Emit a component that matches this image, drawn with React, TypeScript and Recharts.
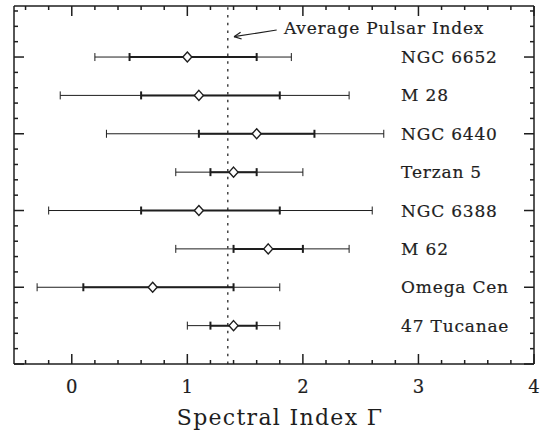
import React from "react";
import { ScatterChart, Scatter, XAxis, YAxis, ErrorBar, ReferenceLine } from "recharts";

// globular clusters, top to bottom
const clusters = ["NGC 6652", "M 28", "NGC 6440", "Terzan 5", "NGC 6388", "M 62", "Omega Cen", "47 Tucanae"];
const rowPos = [8, 7, 6, 5, 4, 3, 2, 1];
const gamma = [1.0, 1.1, 1.6, 1.4, 1.1, 1.7, 0.7, 1.4];
const innerLo = [0.5, 0.6, 1.1, 1.2, 0.6, 1.4, 0.1, 1.2];
const innerHi = [1.6, 1.8, 2.1, 1.6, 1.8, 2.0, 1.4, 1.6];
const outerLo = [0.2, -0.1, 0.3, 0.9, -0.2, 0.9, -0.3, 1.0];
const outerHi = [1.9, 2.4, 2.7, 2.0, 2.6, 2.4, 1.8, 1.8];

const avgIndex = 1.35;
const labelX = 2.85;

const xTicks = [-0.4, -0.2, 0, 0.2, 0.4, 0.6, 0.8, 1, 1.2, 1.4, 1.6, 1.8, 2, 2.2, 2.4, 2.6, 2.8, 3, 3.2, 3.4, 3.6, 3.8, 4];
const yTicks = [0, 0.4, 0.8, 1.2, 1.6, 2, 2.4, 2.8, 3.2, 3.6, 4, 4.4, 4.8, 5.2, 5.6, 6, 6.4, 6.8, 7.2, 7.6, 8, 8.4, 8.8, 9.2];

const FONT = "'DejaVu Serif', serif";
const INK = "#1e1e1e";

const rows = clusters.map((name, i) => ({
  name,
  x: gamma[i],
  y: rowPos[i],
  inner: [gamma[i] - innerLo[i], innerHi[i] - gamma[i]],
  outer: [gamma[i] - outerLo[i], outerHi[i] - gamma[i]],
}));
const nameRows = clusters.map((name, i) => ({ name, x: labelX, y: rowPos[i] }));
const note = [{ name: "Average Pulsar Index", x: 1.836, y: 8.75 }];

const isMajor = (v: number, step: number) => Math.abs(v / step - Math.round(v / step)) < 1e-6;

function XTick({ x, y, payload, top }: any) {
  const v = payload.value;
  const major = isMajor(v, 1);
  const len = major ? 10 : 4;
  return (
    <g>
      <line x1={x} x2={x} y1={y} y2={top ? y + len : y - len} stroke={INK} strokeWidth={1.5} />
      {!top && major && (
        <text x={x} y={y + 29} textAnchor="middle" fontFamily={FONT} fontSize={18} fill={INK} stroke={INK} strokeWidth={0.2}>
          {Math.round(v)}
        </text>
      )}
    </g>
  );
}

function YTick({ x, y, payload, right }: any) {
  const len = isMajor(payload.value, 2) ? 10 : 4;
  return <line x1={x} x2={right ? x - len : x + len} y1={y} y2={y} stroke={INK} strokeWidth={1.5} />;
}

function Diamond({ cx, cy }: any) {
  return (
    <polygon
      points={`${cx},${cy - 5} ${cx + 4.5},${cy} ${cx},${cy + 5} ${cx - 4.5},${cy}`}
      fill="#fff"
      stroke={INK}
      strokeWidth={1.4}
    />
  );
}

function NameText({ cx, cy, payload }: any) {
  return (
    <text x={cx} y={cy} dy={6} fontFamily={FONT} fontSize={17} letterSpacing={0.8} fill={INK} stroke={INK} strokeWidth={0.2}>
      {payload.name}
    </text>
  );
}

export default function App() {
  return (
    <div style={{ position: "absolute", left: 0, top: 0, width: 548, height: 433, background: "#fff" }}>
      <ScatterChart width={548} height={433} margin={{ top: 5, right: 13, bottom: 0, left: 13 }}>
        <XAxis
          type="number"
          dataKey="x"
          domain={[-0.5, 4]}
          allowDataOverflow
          ticks={xTicks}
          interval={0}
          height={69}
          tickSize={0}
          tickMargin={0}
          tickLine={false}
          axisLine={{ stroke: INK, strokeWidth: 1.5 }}
          tick={(p: any) => <XTick {...p} />}
          label={{ value: "Spectral Index Γ", position: "insideBottom", offset: 8, dx: 6, fontFamily: FONT, fontSize: 22, letterSpacing: 1.3, fill: INK }}
        />
        <XAxis
          xAxisId="top"
          orientation="top"
          type="number"
          dataKey="x"
          domain={[-0.5, 4]}
          allowDataOverflow
          ticks={xTicks}
          interval={0}
          height={1}
          tickSize={0}
          tickMargin={0}
          tickLine={false}
          axisLine={{ stroke: INK, strokeWidth: 1.5 }}
          tick={(p: any) => <XTick {...p} top />}
        />
        <YAxis
          type="number"
          dataKey="y"
          domain={[0, 9.33]}
          allowDataOverflow
          ticks={yTicks}
          interval={0}
          width={1}
          tickSize={0}
          tickMargin={0}
          tickLine={false}
          axisLine={{ stroke: INK, strokeWidth: 1.5 }}
          tick={(p: any) => <YTick {...p} />}
        />
        <YAxis
          yAxisId="right"
          orientation="right"
          type="number"
          dataKey="y"
          domain={[0, 9.33]}
          allowDataOverflow
          ticks={yTicks}
          interval={0}
          width={1}
          tickSize={0}
          tickMargin={0}
          tickLine={false}
          axisLine={{ stroke: INK, strokeWidth: 1.5 }}
          tick={(p: any) => <YTick {...p} right />}
        />
        <ReferenceLine x={avgIndex} stroke="#444" strokeWidth={1.5} strokeDasharray="2.5 5.2" />
        <ReferenceLine segment={[{ x: 1.773, y: 8.705 }, { x: 1.404, y: 8.53 }]} stroke={INK} strokeWidth={1.2} />
        <ReferenceLine segment={[{ x: 1.404, y: 8.53 }, { x: 1.47, y: 8.47 }]} stroke={INK} strokeWidth={1.2} />
        <ReferenceLine segment={[{ x: 1.404, y: 8.53 }, { x: 1.461, y: 8.647 }]} stroke={INK} strokeWidth={1.2} />
        <Scatter data={rows} isAnimationActive={false} shape={(p: any) => <Diamond {...p} />}>
          <ErrorBar direction="x" dataKey="outer" width={4} stroke={INK} strokeWidth={1} isAnimationActive={false} />
          <ErrorBar direction="x" dataKey="inner" width={4} stroke={INK} strokeWidth={2} isAnimationActive={false} />
        </Scatter>
        <Scatter data={nameRows} isAnimationActive={false} shape={(p: any) => <NameText {...p} />} />
        <Scatter data={note} isAnimationActive={false} shape={(p: any) => <NameText {...p} />} />
      </ScatterChart>
    </div>
  );
}
